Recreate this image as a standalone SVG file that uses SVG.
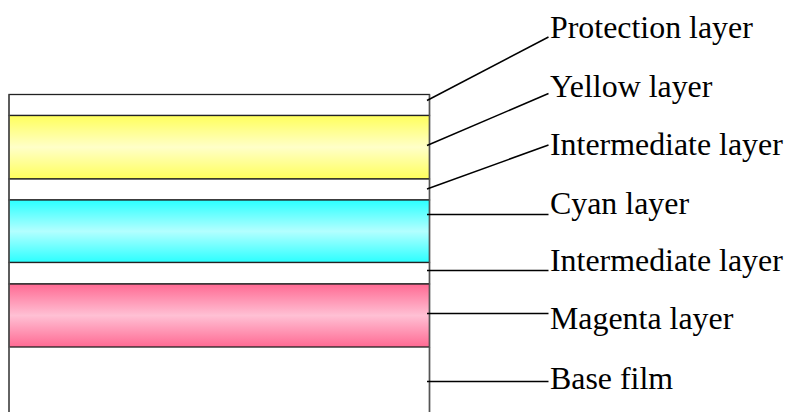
<svg xmlns="http://www.w3.org/2000/svg" width="788" height="412" viewBox="0 0 788 412">
<defs>
<linearGradient id="gy" x1="0" y1="0" x2="0" y2="1">
<stop offset="0" stop-color="#FFFF5C"/><stop offset="0.5" stop-color="#FFFFC8"/><stop offset="1" stop-color="#FFFF5C"/>
</linearGradient>
<linearGradient id="gc" x1="0" y1="0" x2="0" y2="1">
<stop offset="0" stop-color="#2BFFFF"/><stop offset="0.5" stop-color="#B3FFFF"/><stop offset="1" stop-color="#2BFFFF"/>
</linearGradient>
<linearGradient id="gm" x1="0" y1="0" x2="0" y2="1">
<stop offset="0" stop-color="#FF6A93"/><stop offset="0.5" stop-color="#FFC0D4"/><stop offset="1" stop-color="#FF6A93"/>
</linearGradient>
<style>
.layer{stroke:#222;stroke-width:1.3}
.side{stroke:#555;stroke-width:1.4;fill:none}
.lead{stroke:#000;stroke-width:1.5;fill:none}
.lbl{font-family:"Liberation Serif","Times New Roman",serif;font-size:31.9px;fill:#000}
</style>
</defs>
<rect width="788" height="412" fill="#fff"/>
<g id="stack">
<g id="protection"><rect class="layer" x="9" y="94.5" width="420.5" height="21" fill="#fff"/></g>
<g id="yellow"><rect class="layer" x="9" y="115.5" width="420.5" height="63.5" fill="url(#gy)"/></g>
<g id="intermediate1"><rect class="layer" x="9" y="179" width="420.5" height="21" fill="#fff"/></g>
<g id="cyan"><rect class="layer" x="9" y="200" width="420.5" height="62.5" fill="url(#gc)"/></g>
<g id="intermediate2"><rect class="layer" x="9" y="262.5" width="420.5" height="21.5" fill="#fff"/></g>
<g id="magenta"><rect class="layer" x="9" y="284" width="420.5" height="63" fill="url(#gm)"/></g>
<g id="base"><path class="side" d="M9,347 V412 M429.5,347 V412"/></g>
<path class="side" d="M9,94.5 V412 M429.5,94.5 V412"/>
</g>
<g id="connectors">
<path class="lead" d="M427,100.5 L548.5,37"/>
<path class="lead" d="M427,145.5 L548.5,93.5"/>
<path class="lead" d="M427,189 L548.5,145"/>
<path class="lead" d="M427,214.5 H548.5"/>
<path class="lead" d="M427,270.5 H548.5"/>
<path class="lead" d="M427,313.5 H548.5"/>
<path class="lead" d="M427,381.5 H548.5"/>
</g>
<g id="labels">
<text class="lbl" x="550" y="37.5">Protection layer</text>
<text class="lbl" x="550" y="96.5">Yellow layer</text>
<text class="lbl" x="550" y="154.5">Intermediate layer</text>
<text class="lbl" x="550" y="213.5">Cyan layer</text>
<text class="lbl" x="550" y="271">Intermediate layer</text>
<text class="lbl" x="550" y="328.5">Magenta layer</text>
<text class="lbl" x="550" y="388.5">Base film</text>
</g>
</svg>
